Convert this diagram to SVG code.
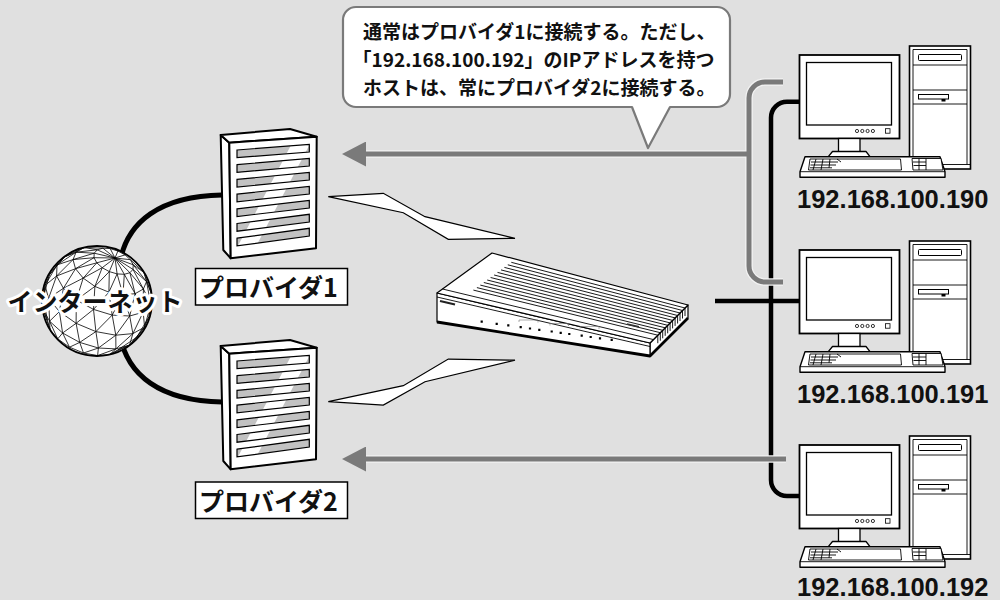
<svg xmlns="http://www.w3.org/2000/svg" width="1000" height="600" viewBox="0 0 1000 600">
<defs>
<style>
  .bg{fill:#e0e0e0}
  .wire{fill:none;stroke:#000;stroke-width:5}
  .bus{fill:none;stroke:#000;stroke-width:4.5}
  .route{fill:none;stroke:#7a7a7a;stroke-width:5}
  .halo{fill:none;stroke:#f2f2f2;stroke-width:7.5}
  .jp{font-family:"Noto Sans CJK JP","Noto Sans",sans-serif;font-weight:700;fill:#111}
  .ip{font-family:"Liberation Sans",Arial,sans-serif;font-weight:700;font-size:25.5px;fill:#111}
  .mesh{fill:none;stroke:#000;stroke-width:0.8;stroke-linejoin:round}
  .thin{fill:none;stroke:#000;stroke-width:0.9}
  .solid{fill:#fff;stroke:#000;stroke-linejoin:round}
  .bolt{fill:#fff;stroke:#000;stroke-width:1.2;stroke-linejoin:miter}
  .label-box{fill:#fff;stroke:#000;stroke-width:1.5}
</style>
<marker id="arrow-gray" viewBox="0 0 24 25" refX="0" refY="12.5" markerWidth="24" markerHeight="25" markerUnits="userSpaceOnUse" orient="auto">
  <path d="M0,0 L24,12.5 L0,25 Z" fill="#7a7a7a"/>
</marker>
<clipPath id="globe-clip"><circle cx="97" cy="301" r="54.6"/></clipPath>
<path id="slat-path" d="M237,150 L309.3,144.3 L309.3,152 L237,157.7 Z M237,164.7 L309.3,158.3 L309.3,166 L237,172.4 Z M237,179.4 L309.3,172.3 L309.3,180 L237,187.1 Z M237,194.1 L309.3,186.3 L309.3,194 L237,201.8 Z M237,208.8 L309.3,200.3 L309.3,208 L237,216.5 Z M237,223.5 L309.3,214.3 L309.3,222 L237,231.2 Z M237,238.2 L309.3,228.3 L309.3,236 L237,245.9 Z"/>
<clipPath id="slat-clip"><use href="#slat-path"/></clipPath>

<!-- rack server: side, top and front faces with vent slats -->
<g id="server-shape">
  <polygon class="solid" stroke-width="2" points="220.7,135 229.3,142.7 230.7,258.3 223.3,250"/>
  <polygon class="solid" stroke-width="2" points="220.7,135 290,129 316.7,136.7 229.3,142.7"/>
  <polygon class="solid" stroke-width="2" points="229.3,142.7 316.7,136.7 316,248.3 230.7,258.3"/>
  <g clip-path="url(#slat-clip)">
    <rect x="235" y="140" width="76" height="110" fill="#c2c2c2"/>
    <polygon points="293.7,140 312,140 254.1,250 235.8,250" fill="#fff"/>
  </g>
  <use href="#slat-path" fill="none" stroke="#000" stroke-width="1.2"/>
</g>

<!-- desktop PC: tower, monitor, keyboard -->
<g id="pc-shape">
  <rect x="909.5" y="46" width="61" height="123" fill="#fff" stroke="#000" stroke-width="1.6"/>
  <path class="thin" d="M913,49.5 V164.5 M967,49.5 V164.5 M913,49.5 H967 M909.5,164.5 H970.5 M913,65 H967 M913,90 H967 M913,104 H967"/>
  <rect x="918.5" y="54.5" width="43" height="6" rx="1" fill="#fff" stroke="#000" stroke-width="1"/>
  <rect x="918.5" y="94.5" width="30" height="4.5" fill="#fff" stroke="#000" stroke-width="1"/>
  <rect x="941.5" y="99" width="4" height="2.5" fill="#000"/>
  <rect x="799.5" y="55" width="100" height="83.5" fill="#fff" stroke="#000" stroke-width="1.8"/>
  <rect x="806.5" y="62.5" width="85" height="62.5" fill="#fff" stroke="#000" stroke-width="1.3"/>
  <g fill="none" stroke="#000" stroke-width="0.8">
    <circle cx="857" cy="131" r="1.6"/>
    <circle cx="862.3" cy="131" r="1.6"/>
    <circle cx="867.6" cy="131" r="1.6"/>
    <circle cx="872.9" cy="131" r="1.6"/>
    <rect x="885.5" y="128.7" width="4.5" height="4.5"/>
  </g>
  <rect x="838.5" y="138.5" width="21.5" height="13.5" fill="#fff" stroke="#000" stroke-width="1.3"/>
  <polygon class="solid" stroke-width="1.3" points="832.5,151.5 866,151.5 870,156.7 828.3,156.7"/>
  <polygon class="solid" stroke-width="1.4" points="805,156.7 940,156.7 945,171.7 945,177.3 800,177.3 800,171.7"/>
  <path class="thin" d="M800,171.7 H945"/>
  <polygon class="solid" stroke-width="0.9" points="810,159 900.5,159 901.5,170 808.5,170"/>
  <polygon class="solid" stroke-width="0.9" points="912,158.5 941,158.5 943,170 913,170"/>
  <path class="thin" stroke-width="0.7" d="M811,162 H838 M810.5,165 H836 M810,167.8 H832 M816,159 L813,170 M823,159 L821,170 M830,159 L829,167.8 M837,159 L841,162 M913,162 H926 M913.5,165.5 H926 M919,158.5 V170 M926,158.5 V170"/>
</g>
</defs>

<rect class="bg" x="0" y="0" width="1000" height="600"/>

<!-- links: wired lines, routing paths and wireless bolts -->
<g id="connectors">
  <path class="wire" d="M120,262 C127,222 160,196 222,195"/>
  <path class="wire" d="M120,335 C127,375 160,401 222,402"/>
  <path class="bus" d="M715,301 H800"/>
  <path class="bus" d="M800,101.7 H787 A16,16 0 0 0 771,117.7 V480 A16,16 0 0 0 787,496 H800"/>
  <path class="halo" d="M783,82 H765 A16,16 0 0 0 749,98 V266 A16,16 0 0 0 765,282 H783"/>
  <path class="halo" d="M749,154 H366"/>
  <path class="halo" d="M786,459 H366"/>
  <path class="route" d="M783,82 H765 A16,16 0 0 0 749,98 V266 A16,16 0 0 0 765,282 H783"/>
  <path class="route" d="M749,154 H366" marker-end="url(#arrow-gray)"/>
  <path class="route" d="M786,459 H366" marker-end="url(#arrow-gray)"/>
  <polygon class="bolt" points="328.3,196.7 383.3,193.3 425,216.7 515,238.3 448.3,239.3 403.3,212.7"/>
  <polygon class="bolt" points="328.3,401.7 383.3,405.1 425,381.7 515,360.1 448.3,359.1 403.3,385.7"/>
</g>

<!-- wireframe globe -->
<g id="internet">
  <circle cx="97" cy="301" r="55" fill="#fff"/>
  <g clip-path="url(#globe-clip)" class="mesh">
    <path d="M115,258L133,269.4M115,258L129.9,272.7M115,258L124.3,274.3M115,258L117.1,273.9M115,258L109.3,271.6M115,258L102.2,267.7M115,258L96.8,262.8M115,258L94,257.7M115,258L94.2,253.2M115,258L97.3,249.8M115,258L102.9,248.2M115,258L110.2,248.6M115,258L117.9,251M115,258L125,254.9M115,258L130.4,259.7M115,258L133.2,264.8"/>
    <polygon points="133,269.4 129.9,272.7 124.3,274.3 117.1,273.9 109.3,271.6 102.2,267.7 96.8,262.8 94,257.7 94.2,253.2 97.3,249.8 102.9,248.2 110.2,248.6 117.9,251 125,254.9 130.4,259.7 133.2,264.8"/>
    <polyline points="144,272.5 146.5,281.6 143.4,289 135.1,293.7 123,294.8 108.9,292.2 94.9,286.4 83.2,278.1 75.5,268.7 73,259.6 76.1,252.2 84.3,247.5"/>
    <polyline points="130.4,259.7 144,272.5 133.2,264.8 146.5,281.6 133,269.4 143.4,289 129.9,272.7 135.1,293.7 124.3,274.3 123,294.8 117.1,273.9 108.9,292.2 109.3,271.6 94.9,286.4 102.2,267.7 83.2,278.1 96.8,262.8 75.5,268.7 94,257.7 73,259.6 94.2,253.2 76.1,252.2 97.3,249.8 84.3,247.5 102.9,248.2"/>
    <polyline points="151.2,293.1 150.8,304.2 143.2,312.2 129.7,316 112.2,315.1 93.5,309.4 76.3,300 63.4,288.3 56.6,276 57,264.9 64.6,256.9"/>
    <polyline points="144,272.5 151.2,293.1 146.5,281.6 150.8,304.2 143.4,289 143.2,312.2 135.1,293.7 129.7,316 123,294.8 112.2,315.1 108.9,292.2 93.5,309.4 94.9,286.4 76.3,300 83.2,278.1 63.4,288.3 75.5,268.7 56.6,276 73,259.6 57,264.9 76.1,252.2 64.6,256.9 84.3,247.5"/>
    <polyline points="149,316.6 144.6,327.1 132.9,333.6 115.8,335.2 95.9,331.6 76.1,323.3 59.4,311.6 48.6,298.3 45,285.4 49.4,274.9"/>
    <polyline points="151.2,293.1 149,316.6 150.8,304.2 144.6,327.1 143.2,312.2 132.9,333.6 129.7,316 115.8,335.2 112.2,315.1 95.9,331.6 93.5,309.4 76.1,323.3 76.3,300 59.4,311.6 63.4,288.3 48.6,298.3 56.6,276 45,285.4 57,264.9 49.4,274.9 64.6,256.9"/>
    <polyline points="137,337.1 129.5,345.1 115.9,348.9 98.4,348 79.7,342.4 62.6,333 49.6,321.2 42.8,308.9 43.2,297.9"/>
    <polyline points="149,316.6 137,337.1 144.6,327.1 129.5,345.1 132.9,333.6 115.9,348.9 115.8,335.2 98.4,348 95.9,331.6 79.7,342.4 76.1,323.3 62.6,333 59.4,311.6 49.6,321.2 48.6,298.3 42.8,308.9 45,285.4 43.2,297.9 49.4,274.9"/>
    <polyline points="117.9,349.9 109.7,354.5 97.6,355.6 83.5,353 69.5,347.2 57.7,338.9 50,329.5 47.5,320.4"/>
    <polyline points="137,337.1 117.9,349.9 129.5,345.1 109.7,354.5 115.9,348.9 97.6,355.6 98.4,348 83.5,353 79.7,342.4 69.5,347.2 62.6,333 57.7,338.9 49.6,321.2 50,329.5 42.8,308.9 47.5,320.4 43.2,297.9"/>
  </g>
  <circle cx="97" cy="301" r="55" fill="none" stroke="#000" stroke-width="1.8"/>
  <text x="95" y="311" text-anchor="middle" class="jp" font-size="25" stroke="#fff" stroke-width="6" stroke-linejoin="round" paint-order="stroke">インターネット</text>
</g>

<g id="provider1">
  <use href="#server-shape"/>
  <rect class="label-box" x="195.5" y="268.5" width="152" height="36.5"/>
  <text x="199" y="297" class="jp" font-size="25">プロバイダ1</text>
</g>

<g id="provider2">
  <use href="#server-shape" transform="translate(0,211)"/>
  <rect class="label-box" x="195.5" y="482" width="152" height="36.5"/>
  <text x="199" y="511" class="jp" font-size="25">プロバイダ2</text>
</g>

<!-- broadband router -->
<g id="router">
  <polygon class="solid" stroke-width="1.2" points="650,343 688,305 688,318 650,356"/>
  <polygon class="solid" stroke-width="1.2" points="437,293 650,343 650,356 437,322"/>
  <polygon class="solid" stroke-width="1.2" points="437,293 492,253 688,305 650,343"/>
  <path class="thin" stroke-width="0.9" d="M511.3,262.3 L685,308 M507.8,264.8 L682.5,310.5 M504.4,267.4 L680,313 M501,269.9 L677.6,315.5 M497.5,272.4 L675.1,317.9 M494.1,275 L672.6,320.4 M490.6,277.5 L670.1,322.9 M487.2,280 L667.7,325.3 M483.8,282.5 L665.2,327.8 M480.3,285.1 L662.7,330.3 M476.9,287.6 L660.3,332.7 M473.4,290.1 L657.8,335.2"/>
  <path class="thin" stroke-width="0.9" d="M685,308 v8 M682.5,310.5 v8 M680,313 v8 M677.6,315.5 v8 M675.1,317.9 v8 M672.6,320.4 v8 M670.1,322.9 v8 M667.7,325.3 v8 M665.2,327.8 v8 M662.7,330.3 v8 M660.3,332.7 v8 M657.8,335.2 v8"/>
  <path class="thin" stroke-width="0.8" d="M442.5,289 L653.5,339.6 M437,297 L650,346.5"/>
  <path d="M437,322 L650,356 L688,318" fill="none" stroke="#000" stroke-width="2.8" stroke-linejoin="round"/>
  <path fill="#000" d="M480.6,320.6h2.2v2.2h-2.2z M495.6,322.7h2.2v2.2h-2.2z M507.2,324.3h2.2v2.2h-2.2z M519.6,326.1h2.2v2.2h-2.2z M528.9,327.4h2.2v2.2h-2.2z M538.2,328.7h2.2v2.2h-2.2z M550.6,330.4h2.2v2.2h-2.2z M559.6,331.7h2.2v2.2h-2.2z M568.2,332.9h2.2v2.2h-2.2z M580.6,334.6h2.2v2.2h-2.2z M589.6,335.9h2.2v2.2h-2.2z M598.9,337.2h2.2v2.2h-2.2z M610.6,338.8h2.2v2.2h-2.2z"/>
  <path fill="none" stroke="#777" stroke-width="0.6" d="M519,322 v-2 h19 v2.5 M550,325.5 v-2 h18.5 v2.5 M580,328.5 v-2 h19 v2.5"/>
  <path d="M440,301 L455,304.5" stroke="#222" stroke-width="2.2"/>
  <path d="M627,324 L639,326.8" stroke="#333" stroke-width="1.4"/>
</g>

<g id="pc190">
  <use href="#pc-shape"/>
  <text x="797" y="208" class="ip">192.168.100.190</text>
</g>
<g id="pc191">
  <use href="#pc-shape" transform="translate(0,195)"/>
  <text x="797" y="403" class="ip">192.168.100.191</text>
</g>
<g id="pc192">
  <use href="#pc-shape" transform="translate(0,390)"/>
  <text x="797" y="596" class="ip">192.168.100.192</text>
</g>

<!-- speech balloon -->
<g id="note">
  <path d="M356,7 H717 A13,13 0 0 1 730,20 V94 A13,13 0 0 1 717,107 H670 L648,148 L632,107 H356 A13,13 0 0 1 343,94 V20 A13,13 0 0 1 356,7 Z" fill="#fff" stroke="#7a7a7a" stroke-width="2.2" stroke-linejoin="round"/>
  <text class="jp" font-size="19">
    <tspan x="363" y="38.5">通常はプロバイダ1に接続する。ただし、</tspan>
    <tspan x="352.5" y="67">「192.168.100.192」のIPアドレスを持つ</tspan>
    <tspan x="363" y="95">ホストは、常にプロバイダ2に接続する。</tspan>
  </text>
</g>
</svg>
